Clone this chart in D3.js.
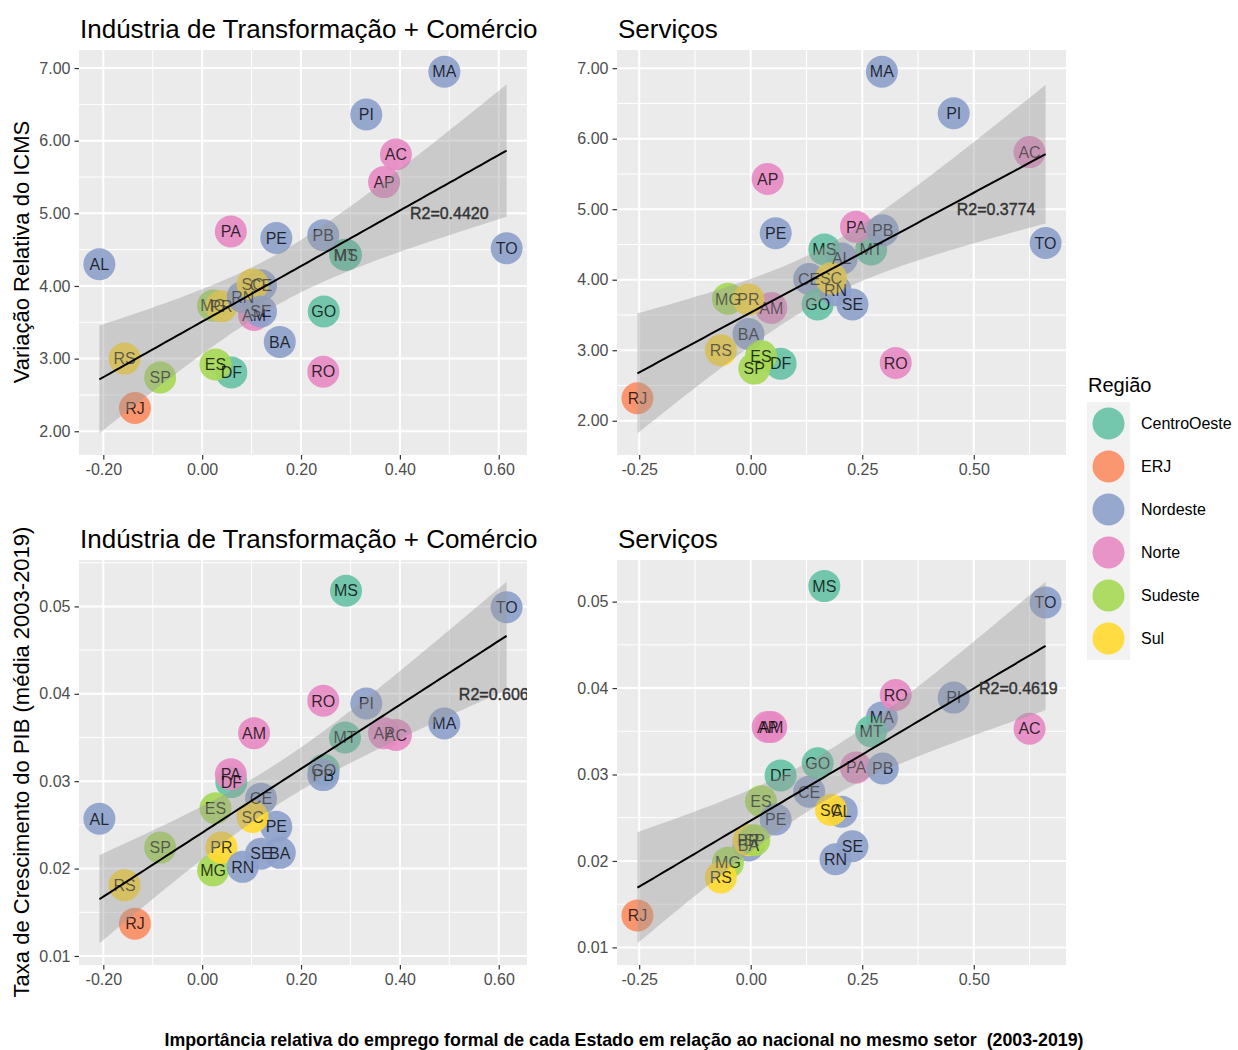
<!DOCTYPE html>
<html>
<head>
<meta charset="utf-8">
<script src="https://cdn.jsdelivr.net/npm/d3@7"></script>
<style>
  body { margin: 0; background: #fff; }
  svg { display: block; font-family: "Liberation Sans", Arial, sans-serif; }
</style>
</head>
<body>
<svg id="chart" width="1238" height="1050"></svg>
<script>
// data
const states = ['AC','AL','AM','AP','BA','CE','DF','ES','GO','MA','MG','MS','MT',
                'PA','PB','PE','PI','PR','RJ','RN','RO','RS','SC','SE','SP','TO'];
const stateRegion = ['Norte','Nordeste','Norte','Norte','Nordeste','Nordeste','CentroOeste','Sudeste','CentroOeste','Nordeste','Sudeste','CentroOeste','CentroOeste',
                     'Norte','Nordeste','Nordeste','Nordeste','Sul','ERJ','Nordeste','Norte','Sul','Sul','Nordeste','Sudeste','Nordeste'];
const indShare  = [0.392,-0.208,0.105,0.368,0.157,0.119,0.059,0.027,0.246,0.490,0.022,0.291,0.289,
                   0.058,0.245,0.150,0.332,0.039,-0.136,0.082,0.245,-0.157,0.102,0.119,-0.085,0.616];
const servShare = [0.625,0.204,0.046,0.038,-0.005,0.131,0.067,0.023,0.150,0.294,-0.051,0.165,0.270,
                   0.236,0.296,0.056,0.455,-0.005,-0.254,0.190,0.325,-0.067,0.180,0.228,0.008,0.661];
const icmsVar   = [5.81,4.30,3.60,5.43,3.23,4.01,2.81,2.92,3.65,6.95,3.73,4.43,4.43,
                   4.75,4.70,4.66,6.36,3.72,2.32,3.85,2.82,3.00,4.02,3.65,2.74,4.52];
const pibGrowth = [0.0353,0.0257,0.0355,0.0355,0.0218,0.0280,0.0299,0.0269,0.0313,0.0366,0.0198,0.0518,0.0350,
                   0.0308,0.0307,0.0248,0.0389,0.0224,0.0137,0.0202,0.0392,0.0181,0.0259,0.0217,0.0224,0.0499];

const regions = ['CentroOeste','ERJ','Nordeste','Norte','Sudeste','Sul'];
const regionColors = ['#66C2A5','#FC8D62','#8DA0CB','#E78AC3','#A6D854','#FFD92F'];

const indTicks  = [-0.2, 0, 0.2, 0.4, 0.6];
const servTicks = [-0.25, 0, 0.25, 0.5];
const icmsTicks = [2, 3, 4, 5, 6, 7];
const pibTicks  = [0.01, 0.02, 0.03, 0.04, 0.05];

const titles = ['Indústria de Transformação + Comércio', 'Serviços'];
const r2Labels = ['R2=0.4420', 'R2=0.3774', 'R2=0.606', 'R2=0.4619'];
const r2Spots = [[0.5, 5.0], [0.55, 5.0], [0.59, 0.04], [0.6, 0.04]];

const svg = d3.select('#chart');
const color = d3.scaleOrdinal().domain(regions).range(regionColors);
const fmt = d3.formatLocale({decimal: '.', thousands: ',', grouping: [3], currency: ['', ''], minus: '-'}).format('.2f');

const panels = [
  {xs: indShare,  ys: icmsVar,   xt: indTicks,  yt: icmsTicks, title: titles[0], box: {l: 79,  t: 50,  r: 527,  b: 455}},
  {xs: servShare, ys: icmsVar,   xt: servTicks, yt: icmsTicks, title: titles[1], box: {l: 617, t: 50,  r: 1066, b: 455}},
  {xs: indShare,  ys: pibGrowth, xt: indTicks,  yt: pibTicks,  title: titles[0], box: {l: 79,  t: 560, r: 527,  b: 965}},
  {xs: servShare, ys: pibGrowth, xt: servTicks, yt: pibTicks,  title: titles[1], box: {l: 617, t: 560, r: 1066, b: 965}}
];

// linear fit with 95% confidence band, like geom_smooth(method = "lm")
function fitLm(xs, ys) {
  const n = xs.length;
  const mx = d3.mean(xs), my = d3.mean(ys);
  let sxx = 0, sxy = 0;
  xs.forEach((x, i) => { sxx += (x - mx) ** 2; sxy += (x - mx) * (ys[i] - my); });
  const b = sxy / sxx, a = my - b * mx;
  let sse = 0;
  xs.forEach((x, i) => { sse += (ys[i] - a - b * x) ** 2; });
  const s = Math.sqrt(sse / (n - 2));
  const t = 2.0639; // qt(0.975, 24)
  const [x0, x1] = d3.extent(xs);
  return d3.range(80).map(k => {
    const x = x0 + (x1 - x0) * k / 79;
    const fit = a + b * x;
    const se = s * Math.sqrt(1 / n + (x - mx) ** 2 / sxx);
    return {x, fit, lo: fit - t * se, hi: fit + t * se};
  });
}

function expand([lo, hi], f) {
  const d = (hi - lo) * f;
  return [lo - d, hi + d];
}

function minors(ticks, domain) {
  const step = ticks[1] - ticks[0];
  const out = [];
  for (let v = ticks[0] - step / 2; v <= ticks[ticks.length - 1] + step; v += step) {
    if (v >= domain[0] && v <= domain[1]) out.push(v);
  }
  return out;
}

panels.forEach((p, pi) => {
  const {l, t, r, b} = p.box;
  const band = fitLm(p.xs, p.ys);
  const xDom = expand(d3.extent(p.xs), 0.05);
  const yDom = expand(d3.extent([...p.ys, ...band.map(d => d.lo), ...band.map(d => d.hi)]), 0.06);
  const x = d3.scaleLinear().domain(xDom).range([l, r]);
  const y = d3.scaleLinear().domain(yDom).range([b, t]);

  const clipId = 'clip' + pi;
  svg.append('clipPath').attr('id', clipId)
    .append('rect').attr('x', l).attr('y', t).attr('width', r - l).attr('height', b - t);

  const g = svg.append('g');
  g.append('rect').attr('x', l).attr('y', t).attr('width', r - l).attr('height', b - t).attr('fill', '#EBEBEB');

  const grid = g.append('g').attr('stroke', '#fff');
  grid.selectAll('.mx').data(minors(p.xt, xDom)).join('line')
    .attr('x1', d => x(d)).attr('x2', d => x(d)).attr('y1', t).attr('y2', b).attr('stroke-width', 1);
  grid.selectAll('.my').data(minors(p.yt, yDom)).join('line')
    .attr('y1', d => y(d)).attr('y2', d => y(d)).attr('x1', l).attr('x2', r).attr('stroke-width', 1);
  grid.selectAll('.Mx').data(p.xt).join('line')
    .attr('x1', d => x(d)).attr('x2', d => x(d)).attr('y1', t).attr('y2', b).attr('stroke-width', 2);
  grid.selectAll('.My').data(p.yt).join('line')
    .attr('y1', d => y(d)).attr('y2', d => y(d)).attr('x1', l).attr('x2', r).attr('stroke-width', 2);

  const plot = g.append('g').attr('clip-path', `url(#${clipId})`);
  const idx = d3.range(states.length);

  plot.append('g').selectAll('circle').data(idx).join('circle')
    .attr('cx', i => x(p.xs[i])).attr('cy', i => y(p.ys[i])).attr('r', 16)
    .attr('fill', i => color(stateRegion[i])).attr('fill-opacity', 0.9);

  plot.append('g').selectAll('text').data(idx).join('text')
    .attr('x', i => x(p.xs[i])).attr('y', i => y(p.ys[i])).attr('dy', '0.36em')
    .attr('text-anchor', 'middle').attr('font-size', 16)
    .attr('fill', '#000').attr('fill-opacity', 0.78)
    .text(i => states[i]);

  plot.append('path').datum(band)
    .attr('fill', '#999999').attr('fill-opacity', 0.4)
    .attr('d', d3.area().x(d => x(d.x)).y0(d => y(d.lo)).y1(d => y(d.hi)));
  plot.append('path').datum(band)
    .attr('fill', 'none').attr('stroke', '#000').attr('stroke-width', 2)
    .attr('d', d3.line().x(d => x(d.x)).y(d => y(d.fit)));

  plot.append('text')
    .attr('x', x(r2Spots[pi][0])).attr('y', y(r2Spots[pi][1])).attr('dy', '0.36em')
    .attr('text-anchor', 'middle').attr('font-size', 16).attr('fill', '#333')
    .attr('stroke', '#333').attr('stroke-width', 0.4)
    .text(r2Labels[pi]);

  // axes
  const ax = g.append('g').attr('transform', `translate(0,${b})`)
    .call(d3.axisBottom(x).tickValues(p.xt).tickFormat(fmt).tickSize(4.5).tickPadding(4));
  const ay = g.append('g').attr('transform', `translate(${l},0)`)
    .call(d3.axisLeft(y).tickValues(p.yt).tickFormat(fmt).tickSize(4.5).tickPadding(4));
  [ax, ay].forEach(a => {
    a.select('.domain').remove();
    a.selectAll('line').attr('stroke', '#333').attr('stroke-width', 1.2);
    a.selectAll('text').attr('font-size', 16).attr('fill', '#4D4D4D')
      .attr('font-family', '"Liberation Sans", Arial, sans-serif');
  });

  svg.append('text').attr('x', l + 1).attr('y', t - 12)
    .attr('font-size', 26).attr('fill', '#000').text(p.title);
});

// y axis titles
const yTitles = ['Variação Relativa do ICMS', 'Taxa de Crescimento do PIB (média 2003-2019)'];
[[252, yTitles[0]], [762, yTitles[1]]].forEach(([cy, txt]) => {
  svg.append('text').attr('transform', `translate(29,${cy}) rotate(-90)`)
    .attr('text-anchor', 'middle').attr('font-size', 22).attr('fill', '#000').text(txt);
});

// bottom caption
svg.append('text').attr('x', 624).attr('y', 1046).attr('text-anchor', 'middle')
  .attr('font-size', 17.8).attr('font-weight', 'bold').attr('fill', '#000')
  .style('white-space', 'pre')
  .text('Importância relativa do emprego formal de cada Estado em relação ao nacional no mesmo setor  (2003-2019)');

// legend
const lg = svg.append('g').attr('transform', 'translate(1087,0)');
lg.append('text').attr('x', 1).attr('y', 392).attr('font-size', 20).attr('fill', '#000').text('Região');
const key = lg.selectAll('g.key').data(regions).join('g')
  .attr('transform', (d, i) => `translate(0,${402 + i * 43})`);
key.append('rect').attr('width', 43).attr('height', 43).attr('fill', '#F2F2F2');
key.append('circle').attr('cx', 21.5).attr('cy', 21.5).attr('r', 16)
  .attr('fill', d => color(d)).attr('fill-opacity', 0.9);
key.append('text').attr('x', 54).attr('y', 21.5).attr('dy', '0.36em')
  .attr('font-size', 16).attr('fill', '#000').text(d => d);
</script>
</body>
</html>
